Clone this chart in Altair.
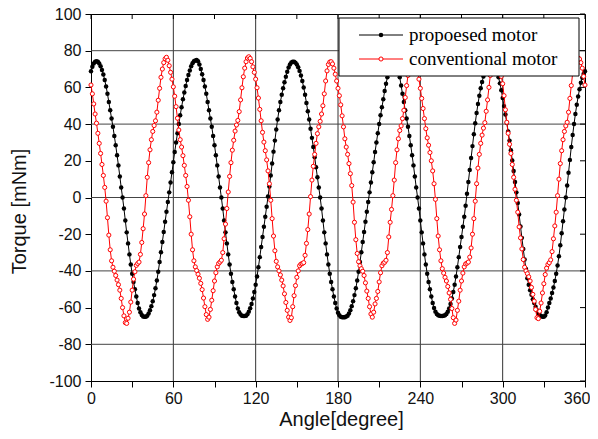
import altair as alt
import pandas as pd

# ---------------- data ----------------
angle = list(range(0, 361))

proposed = [
    68.8, 71.2, 73.0, 74.0, 74.3, 74.0, 73.0, 71.5, 69.5, 67.0,
    64.0, 60.5, 56.5, 52.0, 47.5, 43.0, 38.5, 33.5, 28.5, 23.0,
    17.5, 11.5, 5.5, 0.0, -6.0, -12.5, -19.0, -25.0, -31.0, -36.5,
    -41.5, -46.0, -50.0, -54.0, -57.5, -60.5, -62.5, -64.0, -64.8, -65.0,
    -65.0, -64.4, -63.2, -61.5, -59.2, -56.5, -53.2, -49.5, -45.2, -40.5,
    -35.2, -29.8, -24.2, -18.8, -13.2, -7.8, -2.5, 2.8, 8.2, 13.8,
    19.2, 24.8, 30.0, 35.0, 40.0, 44.8, 49.2, 53.5, 57.2, 60.8,
    64.0, 66.8, 69.2, 71.5, 73.2, 74.2, 74.7, 75.0, 74.3, 72.5,
    70.0, 67.2, 64.0, 60.5, 56.5, 52.0, 47.5, 43.0, 38.5, 33.5,
    28.5, 23.0, 17.5, 11.5, 5.5, 0.0, -6.0, -12.5, -19.0, -25.0,
    -31.0, -36.5, -41.5, -46.0, -50.0, -54.0, -57.5, -60.5, -62.5, -63.8,
    -64.4, -64.6, -64.6, -64.4, -63.6, -62.2, -60.3, -58.0, -55.0, -51.5,
    -47.5, -43.0, -38.0, -32.5, -27.0, -21.5, -16.0, -10.5, -5.0, 0.5,
    6.0, 12.0, 18.5, 25.0, 31.0, 37.0, 42.5, 47.5, 52.0, 56.0,
    59.5, 62.8, 65.8, 68.5, 70.8, 72.5, 73.6, 74.0, 74.0, 73.5,
    72.5, 71.0, 69.0, 66.5, 63.5, 60.0, 56.0, 51.5, 47.0, 42.5,
    37.5, 32.5, 27.5, 22.0, 16.5, 11.0, 5.5, 0.0, -6.0, -12.5,
    -19.0, -25.0, -31.0, -36.5, -41.5, -46.0, -50.0, -54.0, -57.5, -60.5,
    -62.8, -64.2, -65.0, -65.3, -65.3, -65.2, -64.9, -64.4, -63.2, -61.5,
    -59.2, -56.5, -53.2, -49.5, -45.2, -40.5, -35.2, -29.8, -24.2, -18.8,
    -13.2, -7.8, -2.5, 2.8, 8.2, 13.8, 19.2, 24.8, 30.0, 35.0,
    40.0, 44.8, 49.2, 53.5, 58.0, 62.0, 65.5, 68.5, 71.0, 73.0,
    74.2, 74.5, 74.0, 72.5, 70.0, 65.5, 61.0, 56.5, 52.0, 47.5,
    43.0, 38.5, 33.5, 28.5, 23.0, 17.5, 11.5, 5.5, 0.0, -6.0,
    -12.5, -19.0, -25.0, -31.0, -36.5, -41.5, -46.0, -50.0, -54.0, -57.5,
    -60.2, -62.2, -63.5, -64.2, -64.5, -64.6, -64.6, -64.5, -64.2, -63.5,
    -62.3, -60.5, -58.0, -55.0, -51.5, -47.5, -43.0, -38.0, -32.5, -27.0,
    -21.5, -16.0, -10.5, -4.5, 2.0, 8.5, 15.0, 21.5, 28.0, 34.5,
    40.5, 46.0, 51.0, 55.5, 59.5, 63.0, 66.0, 68.5, 70.5, 72.0,
    73.3, 74.1, 74.4, 73.8, 72.4, 70.5, 68.2, 65.5, 62.2, 58.5,
    54.2, 49.8, 45.2, 40.8, 36.0, 31.0, 25.8, 20.2, 14.5, 8.5,
    2.8, -3.0, -9.2, -15.8, -22.0, -28.0, -33.8, -39.0, -44.0, -47.5,
    -50.5, -53.0, -55.5, -57.5, -59.5, -61.5, -63.0, -64.0, -64.6, -65.0,
    -65.0, -64.3, -62.5, -60.0, -57.5, -55.0, -52.0, -49.0, -45.5, -41.5,
    -37.0, -32.0, -26.0, -19.5, -13.0, -6.5, 0.0, 6.5, 13.5, 20.5,
    27.5, 34.0, 40.0, 45.5, 50.5, 55.0, 59.0, 62.5, 65.3, 67.3,
    68.8,
]

conventional = [
    61.3, 56.5, 51.0, 45.5, 40.5, 35.0, 29.5, 24.0, 18.0, 12.0,
    5.5, -2.0, -11.0, -20.5, -28.5, -34.5, -38.0, -40.2, -42.5, -45.0,
    -47.5, -50.5, -55.0, -60.0, -64.5, -68.2, -68.6, -65.8, -62.5, -57.0,
    -50.5, -44.5, -40.5, -37.0, -36.0, -35.2, -31.0, -24.5, -17.0, -9.0,
    1.0, 11.0, 19.0, 26.0, 31.5, 36.0, 39.2, 41.8, 46.5, 53.0,
    59.5, 65.5, 70.0, 73.5, 75.6, 76.4, 74.8, 71.8, 68.2, 64.5,
    60.3, 55.2, 49.5, 43.2, 36.8, 31.5, 27.5, 22.8, 17.5, 12.0,
    6.0, -1.5, -10.5, -20.0, -28.5, -34.5, -37.8, -39.8, -41.8, -44.0,
    -46.8, -50.2, -54.8, -59.5, -63.8, -66.4, -65.2, -61.0, -56.0, -50.8,
    -45.5, -41.0, -37.8, -36.0, -35.2, -34.2, -30.0, -22.5, -14.5, -6.0,
    3.0, 11.5, 19.0, 25.8, 31.2, 36.2, 39.5, 42.0, 46.8, 53.2,
    59.8, 65.8, 70.5, 74.0, 76.0, 76.7, 75.8, 74.0, 71.2, 68.2,
    64.5, 59.8, 54.2, 48.0, 41.8, 35.5, 30.2, 25.5, 20.5, 14.5,
    7.5, -1.5, -11.5, -21.0, -29.0, -34.8, -37.8, -40.0, -42.2, -45.0,
    -48.2, -52.5, -57.2, -61.5, -65.2, -67.0, -65.5, -59.5, -53.5, -48.0,
    -43.5, -40.0, -37.2, -36.3, -36.0, -35.5, -31.5, -25.0, -17.5, -9.0,
    0.5, 9.5, 17.0, 23.5, 29.5, 34.8, 38.5, 41.5, 45.5, 50.0,
    56.5, 63.5, 69.0, 72.5, 73.8, 74.0, 72.8, 70.5, 67.2, 63.5,
    59.5, 55.5, 50.5, 44.5, 38.5, 32.0, 27.5, 23.5, 18.5, 13.0,
    6.5, -2.5, -13.5, -23.0, -30.5, -35.0, -37.2, -38.8, -40.2, -42.5,
    -46.5, -51.0, -55.0, -59.5, -63.5, -65.2, -62.5, -58.0, -55.0, -51.2,
    -46.0, -41.0, -37.2, -35.8, -35.3, -34.2, -30.0, -21.5, -13.5, -6.5,
    1.0, 9.5, 19.0, 26.0, 32.0, 36.5, 39.0, 43.0, 47.5, 54.5,
    61.0, 66.5, 70.5, 73.5, 75.0, 75.2, 74.2, 72.0, 68.8, 64.5,
    59.5, 54.0, 48.5, 43.0, 37.5, 32.5, 28.5, 24.5, 20.0, 14.5,
    7.5, -1.0, -11.5, -21.0, -28.5, -34.5, -38.8, -41.2, -43.5, -45.5,
    -48.5, -52.0, -55.5, -60.5, -65.5, -68.6, -66.8, -61.5, -56.5, -50.5,
    -45.5, -41.2, -37.8, -36.2, -35.8, -35.2, -32.5, -27.5, -20.0, -11.5,
    -2.0, 7.5, 16.0, 23.5, 29.5, 34.0, 37.8, 40.8, 47.0, 53.2,
    60.0, 66.5, 71.0, 74.0, 75.3, 75.5, 74.5, 72.2, 69.2, 66.0,
    62.0, 55.5, 47.8, 41.0, 35.0, 29.0, 24.0, 18.0, 11.0, 4.5,
    -1.5, -8.0, -16.0, -22.0, -28.0, -33.8, -38.0, -40.0, -41.5, -43.2,
    -45.5, -49.0, -52.8, -56.5, -61.0, -65.5, -66.0, -62.0, -57.5, -52.0,
    -47.0, -42.0, -38.5, -36.5, -35.5, -34.0, -29.5, -22.5, -15.5, -8.0,
    1.0, 10.0, 18.5, 25.5, 31.5, 36.0, 39.0, 41.0, 46.5, 54.0,
    61.0, 67.5, 72.0, 74.8, 75.8, 76.0, 75.5, 73.5, 70.5, 66.0,
    61.3,
]

series_names = ["propoesed motor", "conventional motor"]
x_ticks = list(range(0, 361, 30))
y_ticks = list(range(-100, 101, 20))
x_grid = [60, 120, 180, 240, 300]
y_grid = [-80, -40, 0, 40, 80]

# ---------------- tables ----------------
df_p = pd.DataFrame({"angle": angle, "torque": proposed})
df_c = pd.DataFrame({"angle": angle, "torque": conventional})
df_xg = pd.DataFrame({"angle": x_grid})
df_yg = pd.DataFrame({"torque": y_grid})
df_xt = pd.DataFrame({"angle": x_ticks})
df_yt = pd.DataFrame({"torque": y_ticks})

W, H = 494, 367
FONT = "Liberation Sans"

x_axis = alt.Axis(
    values=x_ticks,
    labelExpr="datum.value % 60 == 0 ? datum.label : ''",
    labelAlign={"condition": {"test": "datum.value == 360", "value": "right"}, "value": "center"},
    labelOffset={"condition": {"test": "datum.value == 360", "value": 5}, "value": 0},
    grid=False, tickSize=6, tickColor="black", tickWidth=1,
    domainColor="black", domainWidth=1,
    labelFont=FONT, labelFontSize=16, labelColor="#111",
    labelPadding=3, labelFlush=False, labelOverlap=False,
    title="Angle[degree]", titleFont=FONT, titleFontSize=20,
    titleFontWeight="normal", titleColor="#111",
    titleBaseline="alphabetic", titleX=250, titleY=44,
)
y_axis = alt.Axis(
    values=y_ticks,
    labelExpr="(datum.value < 0 ? '-' : '') + abs(datum.value)",
    grid=False, tickSize=6, tickColor="black", tickWidth=1,
    domainColor="black", domainWidth=1,
    labelFont=FONT, labelFontSize=16, labelColor="#111",
    labelPadding=4, labelFlush=False, labelOverlap=False,
    title="Torque [mNm]", titleFont=FONT, titleFontSize=20,
    titleFontWeight="normal", titleColor="#111",
    titleBaseline="alphabetic", titleX=-66, titleY=197,
)
xs = alt.Scale(domain=[0, 360], nice=False, zero=False)
ys = alt.Scale(domain=[-100, 100], nice=False, zero=False)


def X():
    return alt.X("angle:Q", scale=xs, axis=x_axis)


def Y():
    return alt.Y("torque:Q", scale=ys, axis=y_axis)


grid_x = alt.Chart(df_xg).mark_rule(color="#333", strokeWidth=1).encode(x=X())
grid_y = alt.Chart(df_yg).mark_rule(color="#444", strokeWidth=1).encode(y=Y())
top_ticks = alt.Chart(df_xt).mark_rule(color="black", strokeWidth=1).encode(
    x=X(), y=alt.value(0), y2=alt.value(5))
right_ticks = alt.Chart(df_yt).mark_rule(color="black", strokeWidth=1).encode(
    y=Y(), x=alt.value(W - 5), x2=alt.value(W))

p_line = alt.Chart(df_p).mark_line(color="black", strokeWidth=1).encode(x=X(), y=Y())
p_pts = alt.Chart(df_p).mark_circle(color="black", size=20, opacity=1).encode(x=X(), y=Y())
c_line = alt.Chart(df_c).mark_line(color="#ff0000", strokeWidth=1).encode(x=X(), y=Y())
c_pts = alt.Chart(df_c).mark_point(
    shape="circle", size=17, filled=False, fill="white", fillOpacity=1,
    stroke="#ff0000", strokeWidth=1, opacity=1).encode(x=X(), y=Y())

# ---------------- legend (drawn as decoration in pixel space) ----------------
one = pd.DataFrame({"k": [0]})
lg_box = alt.Chart(one).mark_rect(fill="white", stroke="black", strokeWidth=1).encode(
    x=alt.value(248), x2=alt.value(488), y=alt.value(4), y2=alt.value(62))
lg_l1 = alt.Chart(one).mark_rule(color="black", strokeWidth=1).encode(
    x=alt.value(268), x2=alt.value(312), y=alt.value(21))
lg_l2 = alt.Chart(one).mark_rule(color="#ff0000", strokeWidth=1).encode(
    x=alt.value(268), x2=alt.value(312), y=alt.value(45))
lg_p1 = alt.Chart(one).mark_circle(color="black", size=20, opacity=1).encode(
    x=alt.value(290), y=alt.value(21))
lg_p2 = alt.Chart(one).mark_point(shape="circle", size=17, fill="white", fillOpacity=1,
                                  stroke="#ff0000", strokeWidth=1, opacity=1).encode(
    x=alt.value(290), y=alt.value(45))
lg_t1 = alt.Chart(one).mark_text(text=series_names[0], font="Liberation Serif", fontSize=19,
                                 align="left", baseline="middle", color="black").encode(
    x=alt.value(318), y=alt.value(21))
lg_t2 = alt.Chart(one).mark_text(text=series_names[1], font="Liberation Serif", fontSize=19,
                                 align="left", baseline="middle", color="black").encode(
    x=alt.value(318), y=alt.value(45))

chart = alt.layer(
    grid_x, grid_y, top_ticks, right_ticks,
    p_line, p_pts, c_line, c_pts,
    lg_box, lg_l1, lg_l2, lg_p1, lg_p2, lg_t1, lg_t2,
).properties(
    width=W, height=H,
    padding={"left": 83, "top": 6, "right": 5, "bottom": 49},
    autosize=alt.AutoSizeParams(type="none"),
).configure_view(stroke="black", strokeWidth=1)

chart.save("out.html", embed_options={"renderer": "svg", "actions": False})
